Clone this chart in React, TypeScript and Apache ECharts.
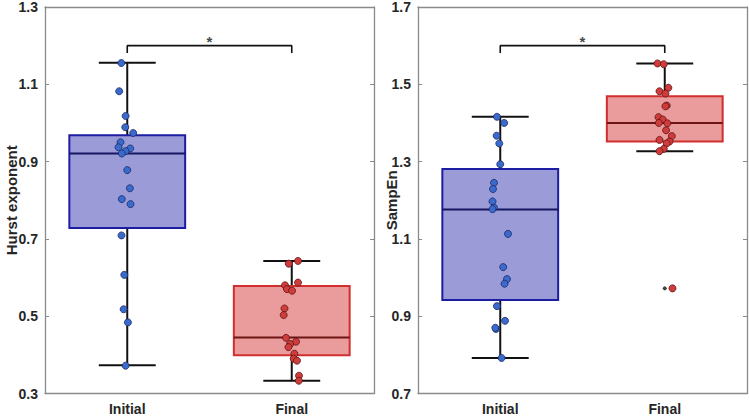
import React, { useEffect, useRef } from "react";
import * as echarts from "echarts";

// Group labels
const groups = ["Initial", "Final"];

// Hurst exponent values per group, with horizontal jitter (in category units)
const hurstInitial = [1.155, 1.082, 1.018, 0.989, 0.974, 0.95, 0.937, 0.934, 0.927, 0.921, 0.878, 0.831, 0.803, 0.79, 0.709, 0.607, 0.518, 0.484, 0.372];
const hurstInitialJitter = [-0.036, -0.049, -0.01, -0.012, 0.036, -0.041, -0.053, 0.018, -0.01, -0.033, 0, 0.016, -0.033, 0.02, -0.035, -0.018, -0.022, 0.004, -0.01];
const hurstFinal = [0.643, 0.636, 0.587, 0.58, 0.57, 0.566, 0.52, 0.503, 0.444, 0.434, 0.428, 0.42, 0.403, 0.39, 0.385, 0.346, 0.333];
const hurstFinalJitter = [0.038, -0.018, 0.038, -0.041, -0.029, 0.002, -0.044, -0.049, -0.035, 0.026, -0.01, -0.02, 0.016, 0.012, 0.032, 0.044, 0.043];

// SampEn values per group
const sampInitial = [1.416, 1.4, 1.367, 1.347, 1.293, 1.245, 1.229, 1.197, 1.181, 1.177, 1.113, 1.027, 0.996, 0.984, 0.926, 0.888, 0.867, 0.87, 0.792];
const sampInitialJitter = [-0.02, 0.024, -0.022, -0.006, 0, -0.038, -0.044, -0.047, -0.038, -0.047, 0.047, 0.018, 0.041, 0.026, -0.02, 0.029, -0.026, -0.03, 0.008];
const sampFinal = [1.554, 1.552, 1.491, 1.482, 1.476, 1.445, 1.443, 1.415, 1.409, 1.4, 1.399, 1.381, 1.366, 1.356, 1.352, 1.347, 1.333, 1.327, 0.972];
const sampFinalJitter = [-0.044, -0.006, 0.022, -0.032, 0.004, 0.012, 0.004, -0.038, -0.012, -0.036, 0.016, 0.008, 0.043, -0.032, 0.029, 0.012, -0.006, -0.032, 0.047];

// Box statistics: [group position, lower whisker, q1, median, q3, upper whisker]
const hurstBoxes = [
  [1, 0.373, 0.728, 0.921, 0.968, 1.156],
  [2, 0.333, 0.399, 0.445, 0.578, 0.643],
];
const sampBoxes = [
  [1, 0.792, 0.942, 1.176, 1.281, 1.416],
  [2, 1.327, 1.352, 1.4, 1.469, 1.554],
];
// Outliers: [group position, value]
const sampOutliers = [[2, 0.972]];

// Significance bracket [x, y] and its star
const hurstBracket = [[1, 1.181], [1, 1.2], [2, 1.2], [2, 1.181]];
const sampBracket = [[1, 1.581], [1, 1.6], [2, 1.6], [2, 1.581]];
const hurstStar = [1.5, 1.2];
const sampStar = [1.5, 1.6];

// Axis ranges and ticks
const hurstRange = { min: 0.3, max: 1.3, interval: 0.2 };
const sampRange = { min: 0.7, max: 1.7, interval: 0.2 };

const FONT = "Liberation Sans, Arial, sans-serif";
const FRAME = "#8a8a8a";
const BOX_FILL = ["#9b9bd7", "#ea9b9b"];
const BOX_EDGE = ["#1d1da3", "#d12e2e"];
const MEDIAN = ["#161663", "#6e1616"];
const DOT_FILL = ["#3a6bcc", "#d03c3c"];
const DOT_EDGE = ["#1c2a66", "#5e1414"];

function boxRender(params: any, api: any) {
  const x = api.value(0);
  const lo = api.value(1);
  const q1 = api.value(2);
  const med = api.value(3);
  const q3 = api.value(4);
  const hi = api.value(5);
  const idx = params.dataIndex;
  const unit = api.size([1, 0])[0];
  const halfBox = unit * 0.352;
  const halfCap = unit * 0.173;
  const pLo = api.coord([x, lo]);
  const pQ1 = api.coord([x, q1]);
  const pMed = api.coord([x, med]);
  const pQ3 = api.coord([x, q3]);
  const pHi = api.coord([x, hi]);
  const cx = pMed[0];
  const whisker = { stroke: "#111", lineWidth: 2 };
  return {
    type: "group",
    children: [
      { type: "line", shape: { x1: cx, y1: pQ3[1], x2: cx, y2: pHi[1] }, style: whisker },
      { type: "line", shape: { x1: cx, y1: pQ1[1], x2: cx, y2: pLo[1] }, style: whisker },
      {
        type: "rect",
        shape: { x: cx - halfBox, y: pQ3[1], width: halfBox * 2, height: pQ1[1] - pQ3[1] },
        style: { fill: BOX_FILL[idx], stroke: BOX_EDGE[idx], lineWidth: 2 },
      },
      { type: "line", shape: { x1: cx - halfBox, y1: pMed[1], x2: cx + halfBox, y2: pMed[1] }, style: { stroke: MEDIAN[idx], lineWidth: 2 } },
      { type: "line", shape: { x1: cx - halfCap, y1: pHi[1], x2: cx + halfCap, y2: pHi[1] }, style: whisker },
      { type: "line", shape: { x1: cx - halfCap, y1: pLo[1], x2: cx + halfCap, y2: pLo[1] }, style: whisker },
    ],
  };
}

const points = (vals: number[], jitter: number[], pos: number) => vals.map((v, i) => [pos + jitter[i], v]);

function dotSeries(data: number[][], g: number, xi: number, yi: number) {
  return {
    type: "scatter",
    xAxisIndex: xi,
    yAxisIndex: yi,
    data,
    symbolSize: 7,
    itemStyle: { color: DOT_FILL[g], borderColor: DOT_EDGE[g], borderWidth: 0.8, opacity: 1 },
    z: 5,
  };
}

function panelAxes(gridIndex: number) {
  return [
    {
      gridIndex,
      type: "category",
      data: groups,
      position: "bottom",
      axisLine: { lineStyle: { color: FRAME, width: 1.3 } },
      axisTick: { inside: true, alignWithLabel: true, length: 4, lineStyle: { color: FRAME } },
      axisLabel: { fontFamily: FONT, fontWeight: "bold", fontSize: 14, color: "#262626", margin: 8 },
      splitLine: { show: false },
    },
    {
      gridIndex,
      type: "category",
      data: groups,
      position: "top",
      axisLine: { lineStyle: { color: FRAME, width: 1.3 } },
      axisTick: { inside: true, alignWithLabel: true, length: 4, lineStyle: { color: FRAME } },
      axisLabel: { show: false },
      splitLine: { show: false },
    },
    { gridIndex, type: "value", min: 0.5, max: 2.5, show: false, splitLine: { show: false } },
  ];
}

function yAxes(gridIndex: number, range: any, name: string, nameGap: number) {
  return [
    {
      gridIndex,
      type: "value",
      position: "left",
      ...range,
      name,
      nameLocation: "middle",
      nameGap,
      nameMoveOverlap: false,
      nameTextStyle: { fontFamily: FONT, fontWeight: "bold", fontSize: 15, color: "#262626" },
      axisLine: { show: true, lineStyle: { color: FRAME, width: 1.3 } },
      axisTick: { show: true, inside: true, length: 4, lineStyle: { color: FRAME } },
      axisLabel: { fontFamily: FONT, fontWeight: "bold", fontSize: 14, color: "#262626", margin: 7, formatter: (v: number) => v.toFixed(1) },
      splitLine: { show: false },
    },
    {
      gridIndex,
      type: "value",
      position: "right",
      ...range,
      axisLine: { show: true, lineStyle: { color: FRAME, width: 1.3 } },
      axisTick: { show: true, inside: true, length: 4, lineStyle: { color: FRAME } },
      axisLabel: { show: false },
      splitLine: { show: false },
    },
  ];
}

function bracketSeries(path: number[][], star: number[], xi: number, yi: number) {
  return [
    {
      type: "line",
      xAxisIndex: xi,
      yAxisIndex: yi,
      data: path,
      symbol: "none",
      lineStyle: { color: "#111", width: 1.6 },
      z: 6,
    },
    {
      type: "scatter",
      xAxisIndex: xi,
      yAxisIndex: yi,
      data: [star],
      symbolSize: 0,
      label: {
        show: true,
        position: "top",
        distance: -3,
        formatter: "*",
        fontFamily: FONT,
        fontWeight: "bold",
        fontSize: 15,
        color: "#111",
      },
      z: 6,
    },
  ];
}

export default function App() {
  const ref = useRef<HTMLDivElement>(null);
  useEffect(() => {
    document.body.style.margin = "0";
    if (!ref.current) return;
    const chart = echarts.init(ref.current, undefined, { renderer: "svg" });
    chart.setOption({
      animation: false,
      backgroundColor: "#ffffff",
      grid: [
        { left: 45, top: 6.5, width: 329, height: 387 },
        { left: 418, top: 6.5, width: 329, height: 387 },
      ],
      xAxis: [...panelAxes(0), ...panelAxes(1)],
      yAxis: [...yAxes(0, hurstRange, "Hurst exponent", 26), ...yAxes(1, sampRange, "SampEn", 19)],
      series: [
        { type: "custom", xAxisIndex: 2, yAxisIndex: 0, renderItem: boxRender, data: hurstBoxes, z: 2 },
        dotSeries(points(hurstInitial, hurstInitialJitter, 1), 0, 2, 0),
        dotSeries(points(hurstFinal, hurstFinalJitter, 2), 1, 2, 0),
        ...bracketSeries(hurstBracket, hurstStar, 2, 0),
        { type: "custom", xAxisIndex: 5, yAxisIndex: 2, renderItem: boxRender, data: sampBoxes, z: 2 },
        dotSeries(points(sampInitial, sampInitialJitter, 1), 0, 5, 2),
        dotSeries(points(sampFinal, sampFinalJitter, 2), 1, 5, 2),
        {
          type: "scatter",
          xAxisIndex: 5,
          yAxisIndex: 2,
          data: sampOutliers,
          symbol: "circle",
          symbolSize: 4,
          itemStyle: { color: "#111" },
          z: 5,
        },
        ...bracketSeries(sampBracket, sampStar, 5, 2),
      ],
    });
    return () => chart.dispose();
  }, []);
  return <div ref={ref} style={{ width: 749, height: 418 }} />;
}
